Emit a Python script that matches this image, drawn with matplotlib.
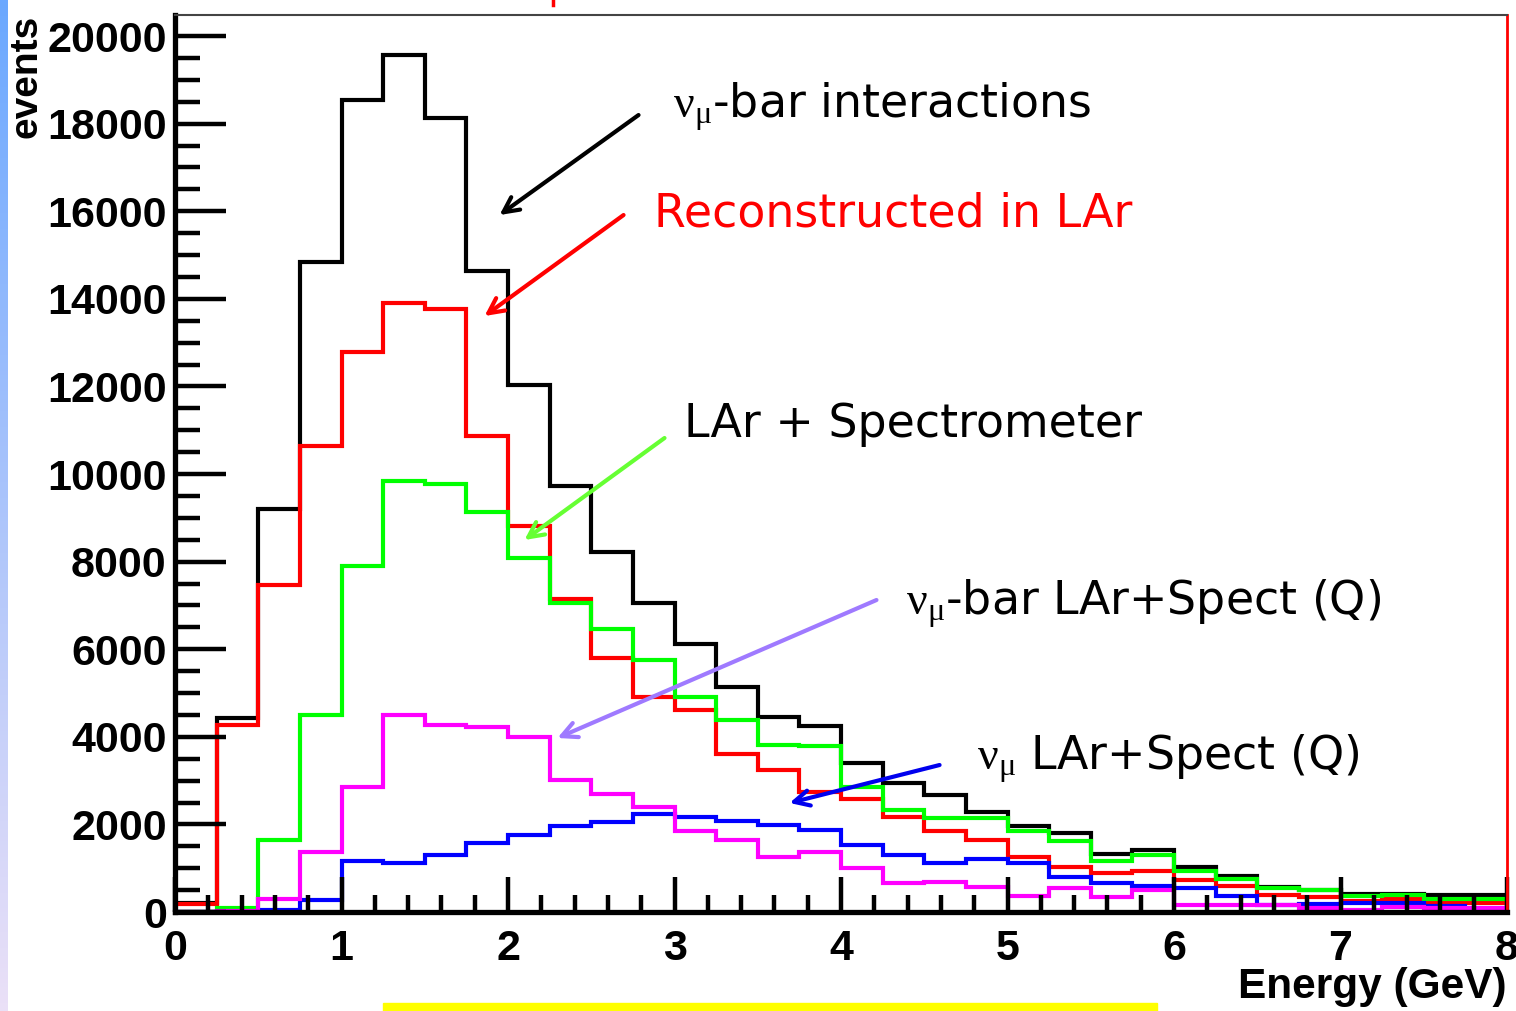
import numpy as np
import matplotlib
matplotlib.use("Agg")
import matplotlib.pyplot as plt
from matplotlib.patches import Rectangle
from matplotlib.ticker import MultipleLocator

plt.rcParams["mathtext.fontset"] = "custom"
plt.rcParams["mathtext.rm"] = "Liberation Serif"
plt.rcParams["mathtext.default"] = "rm"

# Energy binning (GeV)
edges = np.linspace(0.0, 8.0, 33)

# Event counts per 0.25 GeV bin
numubar_interactions = [200, 4420, 9200, 14850, 18550, 19560, 18130, 14640,
                        12030, 9730, 8210, 7060, 6110, 5140, 4460, 4250,
                        3400, 2950, 2670, 2290, 1970, 1800, 1320, 1420,
                        1030, 820, 570, 510, 420, 410, 380, 380]
reco_in_lar = [180, 4280, 7460, 10640, 12790, 13910, 13760, 10870,
               8810, 7140, 5810, 4920, 4620, 3610, 3240, 2750,
               2570, 2160, 1860, 1640, 1260, 1030, 880, 940,
               730, 590, 390, 350, 250, 290, 200, 200]
lar_spectrometer = [0, 100, 1640, 4500, 7900, 9840, 9780, 9130,
                    8080, 7060, 6450, 5750, 4910, 4380, 3810, 3790,
                    2850, 2340, 2140, 2140, 1860, 1610, 1170, 1300,
                    940, 750, 540, 500, 370, 390, 290, 290]
numubar_q = [0, 30, 290, 1380, 2860, 4500, 4270, 4220,
             3990, 3010, 2700, 2400, 1850, 1640, 1260, 1360,
             1000, 660, 690, 580, 370, 550, 350, 500,
             170, 170, 170, 90, 40, 120, 90, 90]
numu_q = [0, 0, 50, 270, 1160, 1110, 1310, 1580,
          1760, 1960, 2050, 2240, 2180, 2080, 1980, 1870,
          1530, 1300, 1110, 1210, 1110, 810, 660, 590,
          540, 370, 160, 180, 200, 200, 140, 60]

W, H, DPI = 1516, 1011, 100
fig = plt.figure(figsize=(W / DPI, H / DPI), dpi=DPI)
fig.patch.set_facecolor("white")

# slide decorations: gradient strip on the left, yellow bar at the bottom
strip = fig.add_axes([0, 0, 8 / W, 1])
grad = np.linspace(0, 1, 256)[:, None]
top_c = np.array([0.42, 0.66, 1.0])
bot_c = np.array([0.92, 0.88, 0.97])
img = top_c[None, None, :] * (1 - grad[..., None]) + bot_c[None, None, :] * grad[..., None]
strip.imshow(img, aspect="auto", extent=[0, 1, 0, 1])
strip.axis("off")
fig.patches.append(Rectangle((383 / W, 0), (1157 - 383) / W, 8 / H,
                             transform=fig.transFigure, color="#ffff00", zorder=0))
fig.lines.append(plt.Line2D([553 / W, 553 / W], [1 - 5 / H, 1.0],
                            transform=fig.transFigure, color="red", lw=2.5))

ax = fig.add_axes([175 / W, 1 - 912 / H, (1507 - 175) / W, (912 - 15) / H])
ax.set_xlim(0, 8)
ax.set_ylim(0, 20480)

series = [
    (numubar_interactions, "#000000"),
    (reco_in_lar, "#ff0000"),
    (lar_spectrometer, "#00ff00"),
    (numu_q, "#0000ff"),
    (numubar_q, "#ff00ff"),
]
for vals, col in series:
    ax.stairs(vals, edges, color=col, lw=3.0, baseline=0)

# frame
for side in ("left", "bottom"):
    ax.spines[side].set_linewidth(3.8)
    ax.spines[side].set_color("black")
ax.spines["top"].set_linewidth(1.5)
ax.spines["top"].set_color("#444444")
ax.spines["right"].set_linewidth(2.0)
ax.spines["right"].set_color("#ff0000")

ax.xaxis.set_major_locator(MultipleLocator(1))
ax.xaxis.set_minor_locator(MultipleLocator(0.2))
ax.yaxis.set_major_locator(MultipleLocator(2000))
ax.yaxis.set_minor_locator(MultipleLocator(500))
ax.tick_params(axis="y", which="major", direction="in", length=37, width=3.2,
               labelsize=31, pad=6)
ax.tick_params(axis="y", which="minor", direction="in", length=18, width=3.2)
ax.tick_params(axis="x", which="major", direction="in", length=25, width=3.2,
               labelsize=31, pad=12)
ax.tick_params(axis="x", which="minor", direction="in", length=12, width=3.2)
for lab in ax.get_xticklabels() + ax.get_yticklabels():
    lab.set_fontfamily("Liberation Sans")
    lab.set_fontweight("bold")

ax.set_ylabel("events", fontfamily="Liberation Sans", fontweight="bold",
              fontsize=28, loc="top")
ax.yaxis.set_label_coords(-0.098, 1.0)
ax.set_xlabel("Energy (GeV)", fontfamily="Liberation Sans", fontweight="bold",
              fontsize=30.5, loc="right")
ax.xaxis.set_label_coords(1.0, -0.061)

# annotations
tfont = dict(fontfamily="DejaVu Sans", fontsize=33, va="baseline", ha="left")
ax.text(2.99, 18130, r"$\nu_{\mu}$-bar interactions", color="black", **tfont)
ax.text(2.874, 15640, "Reconstructed in LAr", color="#ff0000", **tfont)
ax.text(3.06, 10845, "LAr + Spectrometer", color="black", **tfont)
ax.text(4.393, 6780, r"$\nu_{\mu}$-bar LAr+Spect (Q)", color="black", **tfont)
ax.text(4.814, 3242, r"$\nu_{\mu}$ LAr+Spect (Q)", color="black", **tfont)

arrows = [
    ((2.784, 18196), (1.949, 15913), "#000000"),
    ((2.694, 15913), (1.859, 13607), "#ff0000"),
    ((2.940, 10822), (2.099, 8493), "#66ff33"),
    ((4.213, 7123), (2.297, 3973), "#9f7aff"),
    ((4.592, 3356), (3.691, 2489), "#0000ee"),
]
for tail, head, col in arrows:
    ax.annotate("", xy=head, xytext=tail,
                arrowprops=dict(arrowstyle="->,head_length=1.1,head_width=0.55",
                                color=col, lw=3.0, shrinkA=0, shrinkB=0))

fig.savefig("out.png", dpi=DPI)
